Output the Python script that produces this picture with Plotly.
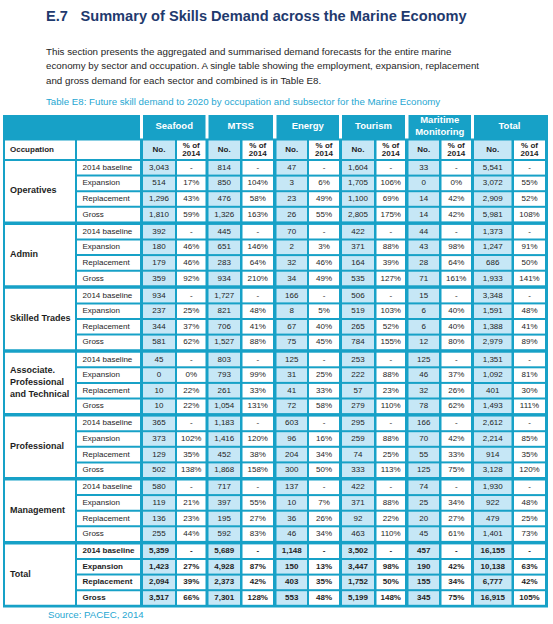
import plotly.graph_objects as go

# ---------------- data ----------------
title_num = "E.7"
title_text = "Summary of Skills Demand across the Marine Economy"
intro_lines = [
    "This section presents the aggregated and summarised demand forecasts for the entire marine",
    "economy by sector and occupation. A single table showing the employment, expansion, replacement",
    "and gross demand for each sector and combined is in Table E8.",
]
caption = "Table E8: Future skill demand to 2020 by occupation and subsector for the Marine Economy"
source = "Source: PACEC, 2014"

sectors = ["Seafood", "MTSS", "Energy", "Tourism", "Maritime<br>Monitoring", "Total"]
occupations = ["Operatives", "Admin", "Skilled Trades",
               "Associate.<br>Professional<br>and Technical",
               "Professional", "Management", "Total"]
measures = ["2014 baseline", "Expansion", "Replacement", "Gross"]
sub_headers = ["No.", "% of<br>2014"]
occupation_header = "Occupation"

seafood_no = [3043, 514, 1296, 1810, 392, 180, 179, 359, 934, 237, 344, 581, 45, 0, 10, 10,
              365, 373, 129, 502, 580, 119, 136, 255, 5359, 1423, 2094, 3517]
seafood_pct = [None, 17, 43, 59, None, 46, 46, 92, None, 25, 37, 62, None, 0, 22, 22,
               None, 102, 35, 138, None, 21, 23, 44, None, 27, 39, 66]
mtss_no = [814, 850, 476, 1326, 445, 651, 283, 934, 1727, 821, 706, 1527, 803, 793, 261, 1054,
           1183, 1416, 452, 1868, 717, 397, 195, 592, 5689, 4928, 2373, 7301]
mtss_pct = [None, 104, 58, 163, None, 146, 64, 210, None, 48, 41, 88, None, 99, 33, 131,
            None, 120, 38, 158, None, 55, 27, 83, None, 87, 42, 128]
energy_no = [47, 3, 23, 26, 70, 2, 32, 34, 166, 8, 67, 75, 125, 31, 41, 72,
             603, 96, 204, 300, 137, 10, 36, 46, 1148, 150, 403, 553]
energy_pct = [None, 6, 49, 55, None, 3, 46, 49, None, 5, 40, 45, None, 25, 33, 58,
              None, 16, 34, 50, None, 7, 26, 34, None, 13, 35, 48]
tourism_no = [1604, 1705, 1100, 2805, 422, 371, 164, 535, 506, 519, 265, 784, 253, 222, 57, 279,
              295, 259, 74, 333, 422, 371, 92, 463, 3502, 3447, 1752, 5199]
tourism_pct = [None, 106, 69, 175, None, 88, 39, 127, None, 103, 52, 155, None, 88, 23, 110,
               None, 88, 25, 113, None, 88, 22, 110, None, 98, 50, 148]
maritime_no = [33, 0, 14, 14, 44, 43, 28, 71, 15, 6, 6, 12, 125, 46, 32, 78,
               166, 70, 55, 125, 74, 25, 20, 45, 457, 190, 155, 345]
maritime_pct = [None, 0, 42, 42, None, 98, 64, 161, None, 40, 40, 80, None, 37, 26, 62,
                None, 42, 33, 75, None, 34, 27, 61, None, 42, 34, 75]
total_no = [5541, 3072, 2909, 5981, 1373, 1247, 686, 1933, 3348, 1591, 1388, 2979, 1351, 1092, 401, 1493,
            2612, 2214, 914, 3128, 1930, 922, 479, 1401, 16155, 10138, 6777, 16915]
total_pct = [None, 55, 52, 108, None, 91, 50, 141, None, 48, 41, 89, None, 81, 30, 111,
             None, 85, 35, 120, None, 48, 25, 73, None, 63, 42, 105]

sector_values = [(seafood_no, seafood_pct), (mtss_no, mtss_pct), (energy_no, energy_pct),
                 (tourism_no, tourism_pct), (maritime_no, maritime_pct), (total_no, total_pct)]

# ---------------- layout / style ----------------
W, H = 553, 624
TEAL = "#17a1c7"
LIGHT = "#c6e7f6"
DARK = "#1e1e1e"
NAVY = "#1f3a6e"
CYAN = "#1fa7d2"
FONT = "Liberation Sans"

col_w = [70, 63, 32, 28.5, 31.5, 30.5, 30.5, 30, 32, 28.5, 30.5, 29.5, 37.5, 31]
col_gap = [2, 3, 2, 3, 2.5, 3.5, 2, 3, 2.5, 3.5, 2.5, 3, 2.5]
x_start = 5
lefts = [x_start]
for w, g in zip(col_w[:-1], col_gap):
    lefts.append(lefts[-1] + w + g)
rights = [l + w for l, w in zip(lefts, col_w)]

table_x0, table_x1 = 3, 548
table_y0, table_y1 = 115, 607.5
h1_top, h1_bot = 115, 138.5
h2_top, h2_bot = 140.5, 159
row_top0, pitch, cell_h, group_extra = 161, 15.6, 13.6, 1.5


def row_top(r):
    return row_top0 + r * pitch + (r // 4) * group_extra


shapes = []


def rect(x0, y0, x1, y1, color):
    shapes.append(dict(type="rect", xref="x", yref="y", x0=x0, y0=y0, x1=x1, y1=y1,
                       fillcolor=color, line=dict(width=0), layer="below"))


rect(table_x0, table_y0, table_x1, table_y1, TEAL)
# white separators in top header row
for ci in [1, 3, 5, 7, 9, 11]:
    rect(rights[ci], h1_top, lefts[ci + 1], h1_bot, "white")

# header row 2 cells
for ci in range(14):
    color = LIGHT if (ci >= 2 and ci % 2 == 0) else "white"
    rect(lefts[ci], h2_top, rights[ci], h2_bot, color)

n_rows = len(measures) * len(occupations)
for g in range(len(occupations)):
    rect(lefts[0], row_top(4 * g), rights[0], row_top(4 * g + 3) + cell_h, "white")
for r in range(n_rows):
    t = row_top(r)
    for ci in range(1, 14):
        color = LIGHT if (ci >= 2 and ci % 2 == 0) else "white"
        rect(lefts[ci], t, rights[ci], t + cell_h, color)

fig = go.Figure()


def add_text(xs, ys, texts, size, color, pos="middle center", bold=False, family=FONT):
    fig.add_trace(go.Scatter(
        x=xs, y=ys, text=texts, mode="text", textposition=pos, hoverinfo="skip",
        textfont=dict(family=family, size=size, color=color, weight="bold" if bold else "normal"),
        showlegend=False, cliponaxis=False))


# Title & intro
add_text([46], [17], [title_num], 14.6, NAVY, "middle right", True)
add_text([80.5], [17], [title_text], 14.6, NAVY, "middle right", True)
add_text([46] * 3, [52.5, 67, 81.5], intro_lines, 9.75, DARK, "middle right")
add_text([46], [103], [caption], 9.7, CYAN, "middle right")
add_text([48], [615.5], [source], 9.7, CYAN, "middle right")

# header row 1
hx, hy, ht = [], [], []
for si, s in enumerate(sectors):
    c0 = 2 + 2 * si
    hx.append((lefts[c0] + rights[c0 + 1]) / 2)
    hy.append((h1_top + h1_bot) / 2)
    ht.append(s)
add_text(hx, hy, ht, 9.5, "white", bold=True)

# header row 2
add_text([10], [(h2_top + h2_bot) / 2], [occupation_header], 8, DARK, "middle right", True)
sx, sy, st = [], [], []
for si in range(len(sectors)):
    for k in range(2):
        ci = 2 + 2 * si + k
        cx = (lefts[ci] + rights[ci]) / 2
        if k == 0:
            sx.append(cx); sy.append((h2_top + h2_bot) / 2); st.append(sub_headers[0])
        else:
            for li, line in enumerate(sub_headers[1].split("<br>")):
                sx.append(cx); sy.append((h2_top + h2_bot) / 2 - 4.2 + 8.4 * li); st.append(line)
add_text(sx, sy, st, 8, DARK, bold=True)

# occupation labels
for g, occ in enumerate(occupations):
    yc = (row_top(4 * g) + row_top(4 * g + 3) + cell_h) / 2
    add_text([10], [yc], [occ], 9, DARK, "middle right", True)

# measure labels & values
for bold_group in [False, True]:
    lx, ly, lt = [], [], []
    vx, vy, vt = [], [], []
    for r in range(n_rows):
        g = r // 4
        is_total = (g == len(occupations) - 1)
        if is_total != bold_group:
            continue
        yc = row_top(r) + cell_h / 2
        lx.append(82.5); ly.append(yc); lt.append(measures[r % 4])
        for si, (nos, pcts) in enumerate(sector_values):
            cn = 2 + 2 * si
            vx.append((lefts[cn] + rights[cn]) / 2); vy.append(yc); vt.append(f"{nos[r]:,}")
            cp = cn + 1
            p = pcts[r]
            vx.append((lefts[cp] + rights[cp]) / 2); vy.append(yc)
            vt.append("-" if p is None else f"{p}%")
    add_text(lx, ly, lt, 8, DARK, "middle right", bold_group)
    add_text(vx, vy, vt, 8, DARK, "middle center", bold_group)

fig.update_layout(
    width=W, height=H, autosize=False,
    margin=dict(l=0, r=0, t=0, b=0),
    paper_bgcolor="white", plot_bgcolor="white",
    shapes=shapes, showlegend=False,
    xaxis=dict(range=[0, W], visible=False, fixedrange=True),
    yaxis=dict(range=[H, 0], visible=False, fixedrange=True),
)

fig.write_html("out.html", config={"displayModeBar": False, "staticPlot": True},
               post_script="document.body.style.margin='0';document.body.style.overflow='hidden';")
